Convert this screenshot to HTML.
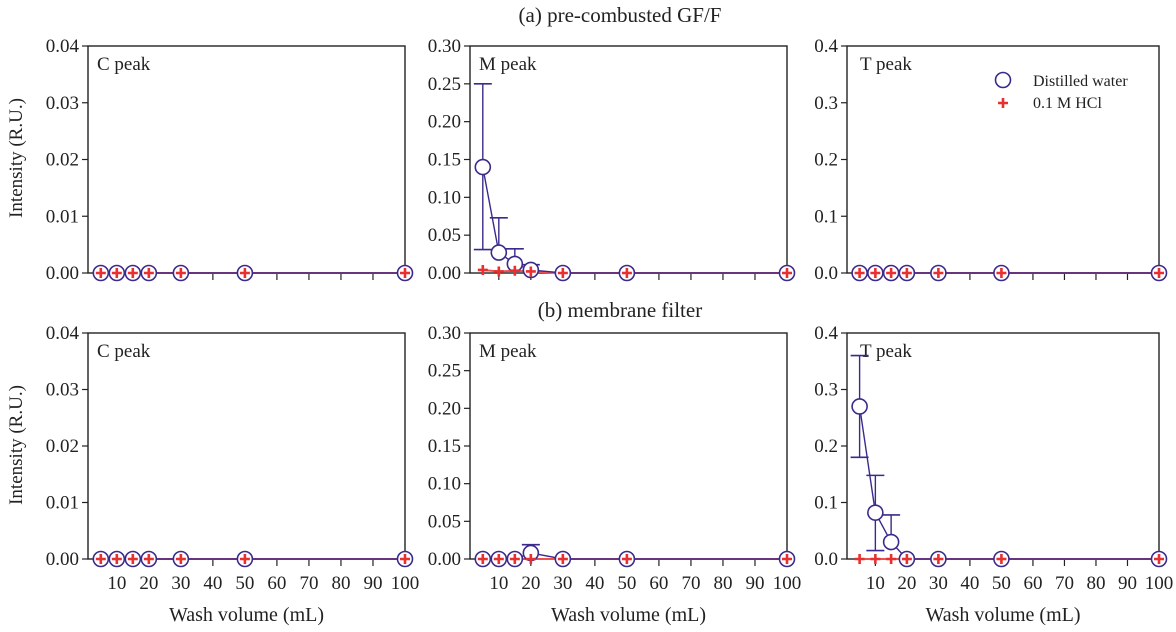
<!DOCTYPE html>
<html><head><meta charset="utf-8"><style>
body{margin:0;background:#fff}
svg{display:block;font-family:"Liberation Serif",serif}
</style></head><body>
<svg id="c" width="1176" height="632" viewBox="0 0 1176 632">
<text x="620" y="22" font-size="21" text-anchor="middle" fill="#222">(a) pre-combusted GF/F</text>
<text x="620" y="317" font-size="21" text-anchor="middle" fill="#222">(b) membrane filter</text>
<text transform="translate(22,158) rotate(-90)" font-size="19" text-anchor="middle" fill="#222">Intensity (R.U.)</text>
<text transform="translate(22,445) rotate(-90)" font-size="19" text-anchor="middle" fill="#222">Intensity (R.U.)</text>
<g>
<circle cx="1003" cy="80" r="7.5" fill="#fff" stroke="#3b2a8c" stroke-width="1.6"/>
<text x="1033" y="86" font-size="16" fill="#222">Distilled water</text>
<path d="M998,103h10M1003,98v10" stroke="#e83030" stroke-width="2.6"/>
<text x="1033" y="108" font-size="16" fill="#222">0.1 M HCl</text>
</g>
</svg>
<script>
const xs=[5,10,15,20,30,50,100];
const xTicks=[10,20,30,40,50,60,70,80,90,100];
const labels=["C peak","M peak","T peak"];
const yMaxes=[0.04,0.30,0.4];
const yTickLabelsC=["0.00","0.01","0.02","0.03","0.04"];
const yTickLabelsM=["0.00","0.05","0.10","0.15","0.20","0.25","0.30"];
const yTickLabelsT=["0.0","0.1","0.2","0.3","0.4"];
// row a
const aC_dw=[0,0,0,0,0,0,0], aC_dwHi=[0,0,0,0,0,0,0], aC_dwLo=[0,0,0,0,0,0,0], aC_hcl=[0,0,0,0,0,0,0];
const aM_dw=[0.14,0.027,0.012,0.004,0,0,0], aM_dwHi=[0.25,0.073,0.032,0.011,0,0,0], aM_dwLo=[0.031,0.027,0.012,0.004,0,0,0], aM_hcl=[0.004,0.002,0.003,0.002,0,0,0];
const aT_dw=[0,0,0,0,0,0,0], aT_dwHi=[0,0,0,0,0,0,0], aT_dwLo=[0,0,0,0,0,0,0], aT_hcl=[0,0,0,0,0,0,0];
// row b
const bC_dw=[0,0,0,0,0,0,0], bC_dwHi=[0,0,0,0,0,0,0], bC_dwLo=[0,0,0,0,0,0,0], bC_hcl=[0,0,0,0,0,0,0];
const bM_dw=[0,0,0,0.008,0,0,0], bM_dwHi=[0,0,0,0.019,0,0,0], bM_dwLo=[0,0,0,0.008,0,0,0], bM_hcl=[0,0,0,0,0,0,0];
const bT_dw=[0.27,0.082,0.03,0,0,0,0], bT_dwHi=[0.36,0.148,0.078,0,0,0,0], bT_dwLo=[0.18,0.015,0.03,0,0,0,0], bT_hcl=[0,0,0,0,0,0,0];

const svg=document.getElementById('c');
const NS="http://www.w3.org/2000/svg";
function mk(t,a,p){const e=document.createElementNS(NS,t);for(const k in a)e.setAttribute(k,a[k]);(p||svg).appendChild(e);return e;}
const cols=[{L:88,R:405},{L:470,R:787},{L:847,R:1159}];
const rows=[{T:46,B:273},{T:333,B:559}];
const tickSets=[yTickLabelsC,yTickLabelsM,yTickLabelsT];
const data=[[[aC_dw,aC_dwHi,aC_dwLo,aC_hcl],[aM_dw,aM_dwHi,aM_dwLo,aM_hcl],[aT_dw,aT_dwHi,aT_dwLo,aT_hcl]],
[[bC_dw,bC_dwHi,bC_dwLo,bC_hcl],[bM_dw,bM_dwHi,bM_dwLo,bM_hcl],[bT_dw,bT_dwHi,bT_dwLo,bT_hcl]]];
const navy="#3b2a8c", red="#e83030";
rows.forEach((r,ri)=>cols.forEach((c,ci)=>{
  const g=mk('g',{});
  
  
  const k=(c.R-c.L)/99;
  const X=v=>c.L+(v-1)*k;
  const ymax=yMaxes[ci];
  const Y=v=>r.B-v/ymax*(r.B-r.T);
  mk('rect',{x:c.L,y:r.T,width:c.R-c.L,height:r.B-r.T,fill:'none',stroke:'#222','stroke-width':1.4},g);
  const tl=tickSets[ci];
  tl.forEach((s,i)=>{
    const v=ymax*i/(tl.length-1), y=Y(v);
    mk('line',{x1:c.L-6,x2:c.L,y1:y,y2:y,stroke:'#222','stroke-width':1.2},g);
    const t=mk('text',{x:c.L-9,y:y+6,'font-size':19,'text-anchor':'end',fill:'#222'},g);t.textContent=s;
  });
  xTicks.forEach(v=>{
    const x=X(v);
    mk('line',{x1:x,x2:x,y1:r.B,y2:r.B+7,stroke:'#222','stroke-width':1.2},g);
    if(ri===1){const t=mk('text',{x:x,y:r.B+30,'font-size':19,'text-anchor':'middle',fill:'#222'},g);t.textContent=v;}
  });
  if(ri===1){const t=mk('text',{x:(c.L+c.R)/2,y:r.B+62,'font-size':20,'text-anchor':'middle',fill:'#222'},g);t.textContent='Wash volume (mL)';}
  const pl=mk('text',{x:c.L+(ci===2?13:9),y:r.T+24,'font-size':19,fill:'#222'},g);pl.textContent=labels[ci];
  const [dw,hi,lo,hcl]=data[ri][ci];
  mk('polyline',{points:xs.map((v,i)=>X(v)+','+Y(hcl[i])).join(' '),fill:'none',stroke:'#ee5050','stroke-width':2},g);
  xs.forEach((v,i)=>{
    const x=X(v);
    if(hi[i]>dw[i]){mk('line',{x1:x,x2:x,y1:Y(dw[i]),y2:Y(hi[i]),stroke:navy,'stroke-width':1.4},g);mk('line',{x1:x-9,x2:x+9,y1:Y(hi[i]),y2:Y(hi[i]),stroke:navy,'stroke-width':1.6},g);}
    if(lo[i]<dw[i]){mk('line',{x1:x,x2:x,y1:Y(dw[i]),y2:Y(lo[i]),stroke:navy,'stroke-width':1.4},g);mk('line',{x1:x-9,x2:x+9,y1:Y(lo[i]),y2:Y(lo[i]),stroke:navy,'stroke-width':1.6},g);}
  });
  mk('polyline',{points:xs.map((v,i)=>X(v)+','+Y(dw[i])).join(' '),fill:'none',stroke:navy,'stroke-width':1.4},g);
  xs.forEach((v,i)=>{
    const cc=mk('circle',{cx:X(v),cy:Y(dw[i]),r:7.5,fill:'#fff',stroke:navy,'stroke-width':1.6},g);
    
    
    const p=mk('path',{d:`M${X(v)-5},${Y(hcl[i])}h10M${X(v)},${Y(hcl[i])-5}v10`,stroke:red,'stroke-width':2.6},g);
    
    
  });
}));
</script>
</body></html>
